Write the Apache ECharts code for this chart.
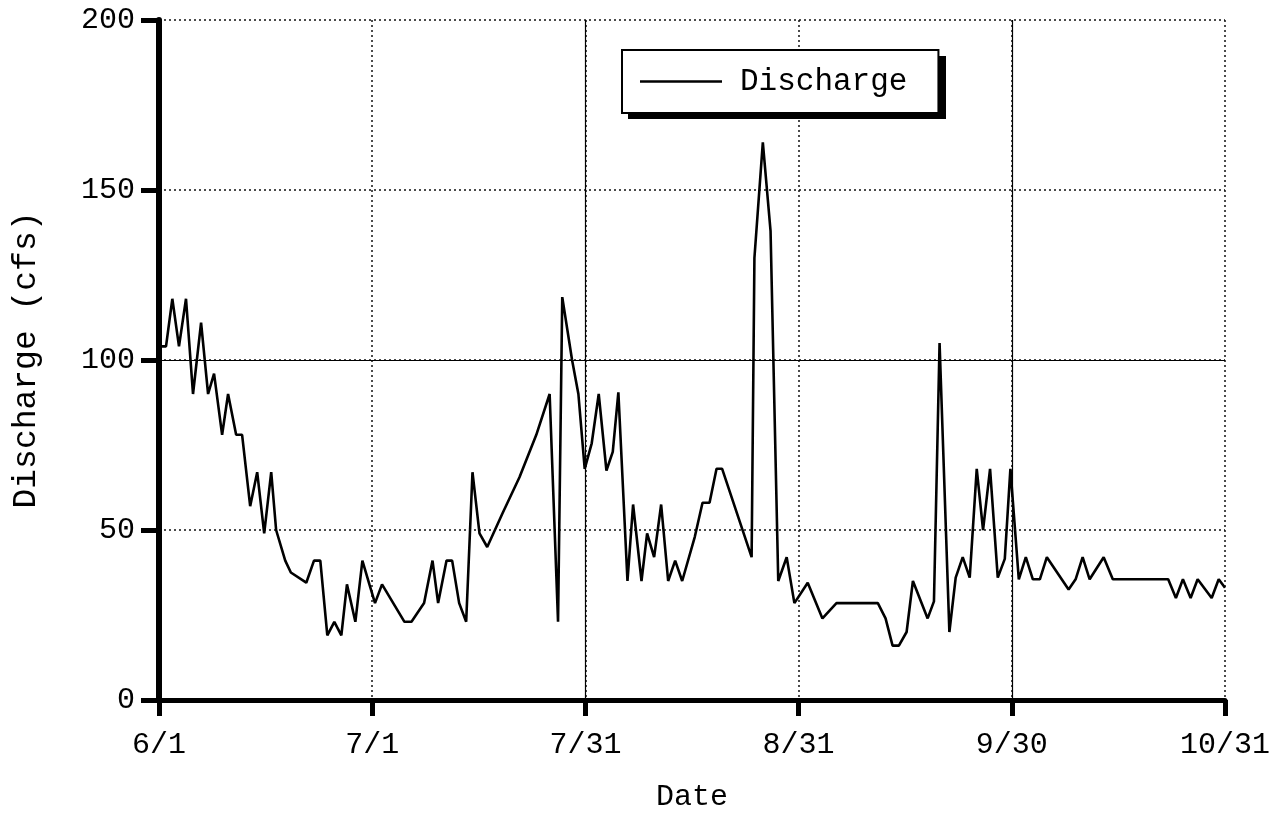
<!DOCTYPE html>
<html>
<head>
<meta charset="utf-8">
<script src="https://cdn.jsdelivr.net/npm/echarts@6/dist/echarts.min.js"></script>
<style>
  html, body { margin: 0; padding: 0; background: #fff; }
  #chart { width: 1286px; height: 817px; }
</style>
</head>
<body>
<div id="chart"></div>
<script>
// Tick labels for the date axis (6/1 .. 10/31, five equal steps)
const xTickLabels = ['6/1', '7/1', '7/31', '8/31', '9/30', '10/31'];
const xMin = 0, xMax = 152, xInterval = 30.4;
const yMin = 0, yMax = 200, yInterval = 50;

// Days since 6/1
const days = [
  0, 1.0, 1.9, 2.85, 3.85, 4.85, 6.0, 7.0, 7.85, 9.0,
  9.85, 11.0, 11.85, 13.0, 14.0, 15.0, 16.0, 16.7, 18.0, 18.8,
  21.0, 22.1, 23.0, 24.0, 25.0, 26.0, 26.8, 28.0, 29.0, 30.0,
  30.8, 31.8, 35.0, 36.0, 37.8, 39.0, 39.8, 41.0, 41.8, 42.8,
  43.8, 44.7, 45.7, 46.8, 49.0, 51.4, 53.8, 55.7, 56.9, 57.5,
  58.9, 59.8, 60.7, 61.7, 62.7, 63.8, 64.7, 65.5, 66.8, 67.6,
  68.8, 69.6, 70.6, 71.6, 72.6, 73.6, 74.6, 76.4, 77.5, 78.5,
  79.5, 80.3, 84.5, 84.9, 86.1, 87.2, 88.3, 89.5, 90.6, 92.5,
  94.6, 96.6, 102.5, 103.6, 104.6, 105.5, 106.6, 107.5, 109.6, 110.5,
  111.3, 112.7, 113.6, 114.6, 115.6, 116.6, 117.5, 118.5, 119.6, 120.6,
  121.4, 122.6, 123.6, 124.6, 125.6, 126.6, 129.7, 130.7, 131.7, 132.7,
  134.7, 136.0, 143.9, 145.0, 146.0, 147.1, 148.1, 150.1, 151.1, 152.0
];

// Discharge (cfs)
const discharge = [
  104, 104, 118, 104, 118, 90, 111, 90, 96, 78,
  90, 78, 78, 57, 67, 49, 67, 50, 41, 37.5,
  34.5, 41, 41, 19, 23, 19, 34, 23, 41, 34,
  28.5, 34, 23, 23, 28.5, 41, 28.5, 41, 41, 28.5,
  23, 67, 49, 45, 55, 65.5, 78, 90, 23, 118.5,
  100, 90, 68, 75.5, 90, 67.5, 73, 90.5, 35, 57.5,
  35, 49, 42, 57.5, 35, 41, 35, 48, 58, 58,
  68, 68, 42, 130, 164, 138, 35, 42, 28.5, 34.5,
  24, 28.5, 28.5, 24, 16, 16, 20, 35, 24, 29,
  105, 20, 36, 42, 36, 68, 50, 68, 36, 41.5,
  68, 35.5, 42, 35.5, 35.5, 42, 32.5, 35.5, 42, 35.5,
  42, 35.5, 35.5, 30, 35.5, 30, 35.5, 30, 35.5, 33
];

const seriesData = days.map((d, i) => [d, discharge[i]]);

const FONT = '"Liberation Mono", "DejaVu Sans Mono", monospace';

const chart = echarts.init(document.getElementById('chart'), null, { renderer: 'canvas' });
chart.setOption({
  backgroundColor: '#ffffff',
  animation: false,
  grid: { left: 159, right: 61, top: 20, bottom: 117, containLabel: false },
  graphic: [{
    type: 'rect',
    z: 1,
    silent: true,
    shape: { x: 628, y: 56, width: 318, height: 63 },
    style: { fill: '#000' }
  }],
  legend: {
    left: 622, top: 50,
    z: 10,
    orient: 'horizontal',
    backgroundColor: '#ffffff',
    borderColor: '#000000',
    borderWidth: 2,
    borderRadius: 0,
    padding: [16, 31, 16, 18],
    itemWidth: 82,
    itemHeight: 2.5,
    textStyle: { fontFamily: FONT, fontSize: 31, color: '#000', padding: [0, 0, 0, 13] },
    data: [{ name: 'Discharge', icon: 'rect', itemStyle: { color: '#000' } }]
  },
  xAxis: {
    type: 'value',
    min: xMin, max: xMax, interval: xInterval,
    name: 'Date',
    nameLocation: 'middle',
    nameGap: 82,
    nameTextStyle: { fontFamily: FONT, fontSize: 30, color: '#000' },
    axisLine: { show: true, onZero: false, lineStyle: { color: '#000', width: 5 } },
    axisTick: { show: true, length: 16, lineStyle: { color: '#000', width: 5 } },
    axisLabel: {
      fontFamily: FONT, fontSize: 30, color: '#000', margin: 30,
      formatter: v => xTickLabels[Math.round(v / xInterval)] || ''
    },
    splitLine: { show: true, lineStyle: { color: '#111', width: 1.5, type: [2, 3] } }
  },
  yAxis: {
    type: 'value',
    min: yMin, max: yMax, interval: yInterval,
    name: 'Discharge (cfs)',
    nameLocation: 'middle',
    nameGap: 116,
    nameTextStyle: { fontFamily: FONT, fontSize: 33, color: '#000' },
    axisLine: { show: true, lineStyle: { color: '#000', width: 6 } },
    axisTick: { show: true, length: 18, lineStyle: { color: '#000', width: 5 } },
    axisLabel: { fontFamily: FONT, fontSize: 30, color: '#000', margin: 24 },
    splitLine: { show: true, lineStyle: { color: '#111', width: 1.5, type: [2, 3] } }
  },
  series: [{
    name: 'Discharge',
    type: 'line',
    data: seriesData,
    symbol: 'none',
    lineStyle: { color: '#000', width: 2.6 },
    itemStyle: { color: '#000' },
    z: 5,
    markLine: {
      silent: true,
      symbol: 'none',
      label: { show: false },
      lineStyle: { color: '#000', width: 1.2, type: 'solid' },
      data: [
        { yAxis: yInterval * 2 },
        { xAxis: xInterval * 2 },
        { xAxis: xInterval * 4 }
      ]
    }
  }]
});
</script>
</body>
</html>
